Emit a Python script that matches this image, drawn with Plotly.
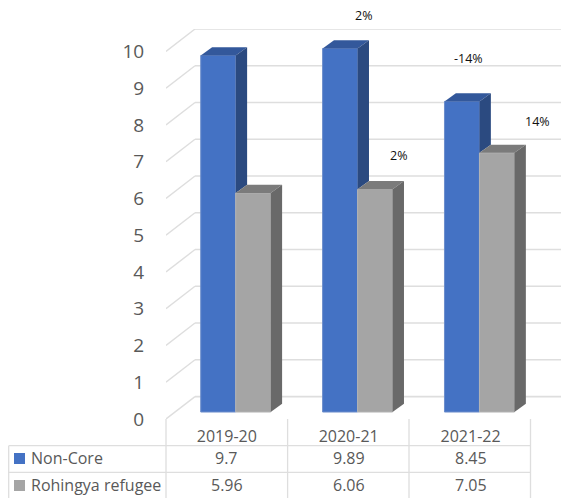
import plotly.graph_objects as go

categories = ["2019-20", "2020-21", "2021-22"]
non_core = [9.7, 9.89, 8.45]
rohingya = [5.96, 6.06, 7.05]
series_names = ["Non-Core", "Rohingya refugee"]
y_ticks = list(range(0, 11))
change_core = ["", "2%", "-14%"]
change_rohingya = ["", "2%", "14%"]

FONT = "Open Sans"
TXT = "#595959"
GRID = "#dedede"
BLUE, BLUE_SIDE, BLUE_TOP = "#4472C4", "#2B4A80", "#33589B"
GRAY, GRAY_SIDE, GRAY_TOP = "#A5A5A5", "#696969", "#7B7B7B"

WIDTH, HEIGHT = 562, 498
ML, MR, MT, MB = 166, 1, 29, 79
PLOT_W, PLOT_H = WIDTH - ML - MR, HEIGHT - MT - MB

W = 35 / 121.9      # bar width, category units
DX, DY = 11.4 / 121.9, 8.2 / 36.76   # bar depth
X0, X1 = -0.572, 2.669
Y0, Y1 = -0.19, 10.42
WALL_X = -0.334
CAT_SHIFT = -0.073


def paper_x(px):
    return (px - ML) / PLOT_W


def paper_y(py):
    return (HEIGHT - MB - py) / PLOT_H


fig = go.Figure()
xs = list(range(len(categories)))


def poly(x, y, color):
    fig.add_trace(go.Scatter(x=x, y=y, mode="lines", fill="toself", fillcolor=color,
                             line=dict(width=0, color=color), showlegend=False,
                             hoverinfo="skip"))


fig.add_trace(go.Bar(x=xs, y=non_core, width=W, offset=-W, marker=dict(color=BLUE, line=dict(color="#6C8DCB", width=1)),
                     name=series_names[0], showlegend=False))
fig.add_trace(go.Bar(x=xs, y=rohingya, width=W, offset=0, marker=dict(color=GRAY, line=dict(color="#B4B4B4", width=1)),
                     name=series_names[1], showlegend=False))

for i, (b, g) in enumerate(zip(non_core, rohingya)):
    poly([i - W, i - W + DX, i + DX, i, i - W], [b, b + DY, b + DY, b, b], BLUE_TOP)
    poly([i, i + DX, i + DX, i, i], [g, g + DY, b + DY, b, g], BLUE_SIDE)
    poly([i, i + DX, i + W + DX, i + W, i], [g, g + DY, g + DY, g, g], GRAY_TOP)
    poly([i + W, i + W + DX, i + W + DX, i + W, i + W], [0, DY, g + DY, g, 0], GRAY_SIDE)

shapes = []
for k in y_ticks:
    shapes.append(dict(type="line", xref="x", yref="y", x0=X0, x1=WALL_X, y0=k + Y0, y1=k + Y1 - 10,
                       line=dict(color=GRID, width=1.4), layer="below"))
    shapes.append(dict(type="line", xref="x", yref="y", x0=WALL_X, x1=X1, y0=k + Y1 - 10, y1=k + Y1 - 10,
                       line=dict(color=GRID, width=1.6), layer="below"))

# data table under the plot, in page pixels converted to paper units
TABLE_LEFT = 8.7
COLS = [166, 287.6, 409, 530.5]
ROWS = [445.7, 472.3]
TABLE_TOP, TABLE_BOTTOM = 419, 498
table_line = dict(color=GRID, width=1.3)
for c in COLS:
    shapes.append(dict(type="line", xref="paper", yref="paper", x0=paper_x(c), x1=paper_x(c),
                       y0=paper_y(TABLE_TOP), y1=paper_y(TABLE_BOTTOM), line=table_line))
shapes.append(dict(type="line", xref="paper", yref="paper", x0=paper_x(TABLE_LEFT), x1=paper_x(TABLE_LEFT),
                   y0=paper_y(ROWS[0]), y1=paper_y(TABLE_BOTTOM), line=table_line))
for r in ROWS:
    shapes.append(dict(type="line", xref="paper", yref="paper", x0=paper_x(TABLE_LEFT), x1=paper_x(COLS[-1]),
                       y0=paper_y(r), y1=paper_y(r), line=table_line))

row_mid = [458.5, 485.5]
for color, mid in zip([BLUE, GRAY], row_mid):
    shapes.append(dict(type="rect", xref="paper", yref="paper", x0=paper_x(14), x1=paper_x(25),
                       y0=paper_y(mid - 5.5), y1=paper_y(mid + 5.5), fillcolor=color, line=dict(width=0)))

annotations = []
table_font = dict(family=FONT, size=16, color=TXT)
for name, vals, mid in zip(series_names, [non_core, rohingya], row_mid):
    annotations.append(dict(xref="paper", yref="paper", x=paper_x(29), y=paper_y(mid - 1), text=name, showarrow=False,
                            xanchor="left", yanchor="middle", font=table_font))
    for i, v in enumerate(vals):
        annotations.append(dict(xref="x", yref="paper", x=i + CAT_SHIFT, y=paper_y(mid - 1), text=str(v),
                                showarrow=False, xanchor="center", yanchor="middle", font=table_font))

pct_font = dict(family=FONT, size=12.5, color="#111111")
core_shift = [None, (23, 33), (7, 43)]
roh_shift = [None, (23, 34), (41, 31)]
for i in xs:
    if change_core[i]:
        annotations.append(dict(x=i - W / 2, y=non_core[i], text=change_core[i], showarrow=False,
                                xshift=core_shift[i][0], yshift=core_shift[i][1], font=pct_font))
    if change_rohingya[i]:
        annotations.append(dict(x=i + W / 2, y=rohingya[i], text=change_rohingya[i], showarrow=False,
                                xshift=roh_shift[i][0], yshift=roh_shift[i][1], font=pct_font))

fig.update_layout(
    width=WIDTH, height=HEIGHT, autosize=False,
    margin=dict(l=ML, r=MR, t=MT, b=MB, pad=0),
    paper_bgcolor="white", plot_bgcolor="white",
    barmode="overlay", showlegend=False,
    shapes=shapes, annotations=annotations,
    xaxis=dict(range=[X0, X1], tickvals=[i + CAT_SHIFT for i in xs], ticktext=categories,
               showgrid=False, zeroline=False, showline=False, ticks="outside", ticklen=3,
               tickcolor="rgba(0,0,0,0)", tickfont=dict(family=FONT, size=16, color=TXT)),
    yaxis=dict(range=[Y0, Y1], tickvals=[k + Y0 for k in y_ticks], ticktext=[str(k) for k in y_ticks],
               showgrid=False, zeroline=False, showline=False, ticks="outside", ticklen=17,
               tickcolor="rgba(0,0,0,0)", tickfont=dict(family=FONT, size=19, color=TXT)),
)

fig.write_html("out.html", config=dict(displayModeBar=False),
               post_script="document.body.style.margin='0';document.body.style.overflow='hidden';")
